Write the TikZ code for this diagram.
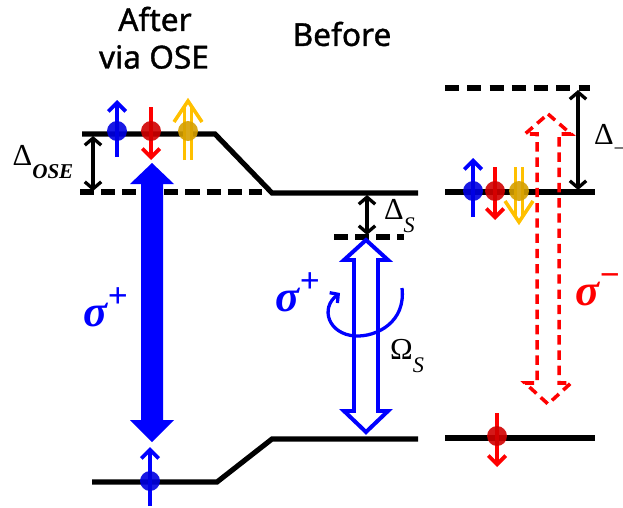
\documentclass[tikz,border=0pt]{standalone}
\usepackage{fontspec}
\setmainfont{Liberation Serif}
\newfontfamily\headfont{Noto Sans}[FakeBold=1.2]
\usetikzlibrary{positioning,calc,arrows.meta}
\definecolor{spinblue}{RGB}{0,0,225}
\definecolor{spinred}{RGB}{208,0,0}
\definecolor{spingold}{RGB}{214,160,0}
\definecolor{arrgold}{RGB}{255,192,0}

\begin{document}
\begin{tikzpicture}[x=0.03cm,y=-0.03cm]
  \tikzstyle{lvl}=[line width=4.4pt]
  \tikzstyle{virt}=[line width=4.4pt,dash pattern=on 12pt off 6pt]
  \tikzstyle{gap}=[line width=2.8pt,{Straight Barb[length=6pt,width=14pt]}-{Straight Barb[length=6pt,width=14pt]}]
  \tikzstyle{spin}=[circle,inner sep=0pt,minimum size=17pt,fill opacity=.9]
  \tikzstyle{sarr}=[line width=3.2pt,-{Straight Barb[length=7.5pt,width=15pt]}]
  \tikzstyle{dshaft}=[draw=arrgold,line width=2.4pt,double=white,double distance=3.4pt]
  \tikzstyle{dhead}=[draw=arrgold,line width=3pt,line cap=butt]
  \tikzstyle{head}=[font=\headfont\fontsize{27}{27}\selectfont]
  \tikzstyle{sym}=[font=\fontsize{26}{26}\selectfont]
  \tikzstyle{pol}=[font=\fontsize{38}{38}\selectfont\bfseries\itshape]
  \useasboundingbox (0,0) rectangle (623,507);
  % levels
  \draw [lvl] (82,134) -- (215,134) -- (272,193) -- (418,193);
  \draw [lvl] (92,482) -- (217,482) -- (272,439) -- (418,439);
  \draw [lvl] (445,192) -- (595,192);
  \draw [lvl] (445,438) -- (595,438);
  \draw [virt] (80,192) -- (262,192);
  \draw [virt] (334,237) -- (404,237);
  \draw [virt,dash pattern=on 12pt off 7pt] (445,88) -- (590,88);
  % detunings
  \coordinate (oseT) at (93,136);
  \coordinate (oseB) at (93,191);
  \draw [gap] (oseT) -- (oseB);
  \coordinate (sT) at (367,195);
  \coordinate (sB) at (367,235);
  \draw [gap] (sT) -- (sB);
  \coordinate (mT) at (578,90);
  \coordinate (mB) at (578,190);
  \draw [gap] (mT) -- (mB);
  \node [sym] (dose) at (43,162) {Δ\raisebox{-0.42em}{\fontsize{18}{18}\selectfont\bfseries\itshape OSE}};
  \node [sym,anchor=west] (ds) at (380,216) {Δ\raisebox{-0.4em}{\fontsize{19}{19}\selectfont\itshape S}};
  \node [sym,anchor=west] (dm) at (590,140) {Δ\raisebox{-0.35em}{\fontsize{18}{18}\selectfont −}};
  % pump and probe
  \fill [blue] (152,163) -- (174,184) -- (163,184) -- (163,420) -- (174,420) -- (152,442)
    -- (130,420) -- (141,420) -- (141,184) -- (130,184) -- cycle;
  \draw [blue,fill=white,line width=3.4pt,miter limit=20] (366,240) -- (388,260) -- (378,260) -- (378,411) -- (388,411)
    -- (366,432) -- (344,411) -- (354,411) -- (354,260) -- (344,260) -- cycle;
  \draw [red,line width=3pt,dash pattern=on 8pt off 5pt] (548,114) -- (571,134) -- (559,134) -- (559,383) -- (571,383)
    -- (548,404) -- (525,383) -- (537,383) -- (537,134) -- (525,134) -- cycle;
  \draw [blue,line width=2.8pt,-{Straight Barb[length=5pt,width=11pt]}] (402,288)
    .. controls (406,322) and (377,337) .. (355,336) .. controls (328,334) and (320,308) .. (340,293);
  \node [pol,text=blue] (pl) at (106,307) {σ\raisebox{0.42em}{\fontsize{30}{30}\selectfont\upshape +}};
  \node [pol,text=blue] (pm) at (298,292) {σ\raisebox{0.42em}{\fontsize{30}{30}\selectfont\upshape +}};
  \node [pol,text=red] (pr) at (598,290) {σ\raisebox{0.42em}{\fontsize{30}{30}\selectfont\upshape −}};
  \node [sym] (om) at (407,356) {Ω\raisebox{-0.4em}{\fontsize{19}{19}\selectfont\itshape S}};
  % spins
  \coordinate (a1) at (117,131);
  \coordinate (a2) at (151,131);
  \coordinate (a3) at (188,131);
  \coordinate (a4) at (150,481);
  \coordinate (b1) at (473,191);
  \coordinate (b2) at (495,191);
  \coordinate (b3) at (519,191);
  \coordinate (b4) at (497,436);
  \draw [sarr,blue] ($(a1)+(0,26)$) -- ($(a1)+(0,-31)$);
  \draw [sarr,red] ($(a2)+(0,-24)$) -- ($(a2)+(0,29)$);
  \draw [dshaft] ($(a3)+(0,29)$) -- ($(a3)+(0,-25)$);
  \draw [dhead] ($(a3)+(-14,-9)$) -- ($(a3)+(0,-30)$) -- ($(a3)+(14,-9)$);
  \draw [sarr,blue] ($(a4)+(0,25)$) -- ($(a4)+(0,-34)$);
  \draw [sarr,blue] ($(b1)+(0,26)$) -- ($(b1)+(0,-33)$);
  \draw [sarr,red] ($(b2)+(0,-24)$) -- ($(b2)+(0,29)$);
  \draw [dshaft] ($(b3)+(0,-24)$) -- ($(b3)+(0,25)$);
  \draw [dhead] ($(b3)+(-14,10)$) -- ($(b3)+(0,31)$) -- ($(b3)+(14,10)$);
  \draw [sarr,red] ($(b4)+(0,-23)$) -- ($(b4)+(0,31)$);
  \node [spin,fill=spinblue] (s1) at (a1) {};
  \node [spin,fill=spinred] (s2) at (a2) {};
  \node [spin,fill=spingold] (s3) at (a3) {};
  \node [spin,fill=spinblue] (s4) at (a4) {};
  \node [spin,fill=spinblue] (s5) at (b1) {};
  \node [spin,fill=spinred] (s6) at (b2) {};
  \node [spin,fill=spingold] (s7) at (b3) {};
  \node [spin,fill=spinred] (s8) at (b4) {};
  % titles
  \node [head] (after) at (155,19) {After};
  \node [head] (via) at (154,57) {via OSE};
  \node [head] (before) at (342,34) {Before};
\end{tikzpicture}
\end{document}
